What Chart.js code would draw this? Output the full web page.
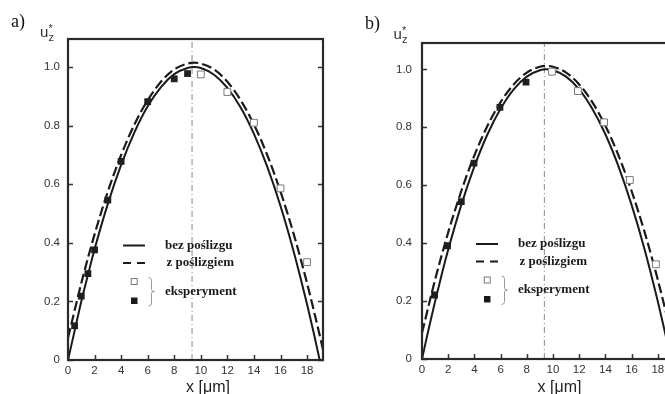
<!DOCTYPE html>
<html>
<head>
<meta charset="utf-8">
<script src="https://cdn.jsdelivr.net/npm/chart.js@4.4.0/dist/chart.umd.min.js"></script>
<style>
body{margin:0;background:#fff;width:665px;height:394px;overflow:hidden;position:relative}
#cA{position:absolute;left:0;top:0}
#wrapB{position:absolute;left:340px;top:0;width:325px;height:394px;overflow:hidden}
</style>
</head>
<body>
<canvas id="cA" width="340" height="394"></canvas>
<div id="wrapB"><canvas id="cB" width="360" height="394"></canvas></div>
<script>
// tick labels (shared)
const xTicks = [0, 2, 4, 6, 8, 10, 12, 14, 16, 18]
const yTicks = [0, 0.2, 0.4, 0.6, 0.8, 1.0]

// panel a) - model curves
const aSolidX = [0, 0.5, 1, 1.5, 2, 3, 4, 5, 6, 7, 8, 9, 9.5, 10, 11, 12, 13, 14, 15, 16, 17, 18, 18.5, 18.95]
const aSolidY = [0, 0.10, 0.20, 0.29, 0.378, 0.533, 0.666, 0.777, 0.866, 0.932, 0.976, 0.997, 1.0, 0.997, 0.974, 0.929, 0.862, 0.772, 0.66, 0.526, 0.369, 0.19, 0.093, 0]
const aSlipX = [0, 1, 2, 3, 4, 5, 6, 7, 8, 9, 9.5, 10, 11, 12, 13, 14, 15, 16, 17, 18, 19, 19.2]
const aSlipY = [0.075, 0.262, 0.429, 0.575, 0.70, 0.804, 0.887, 0.95, 0.992, 1.012, 1.015, 1.012, 0.992, 0.95, 0.887, 0.804, 0.70, 0.575, 0.429, 0.262, 0.075, 0.035]
// panel a) - experiment
const aOpenX = [10, 12, 14, 16, 18]
const aOpenY = [0.975, 0.915, 0.81, 0.586, 0.334]
const aFillX = [0.5, 1.0, 1.5, 2.0, 3.0, 4.0, 6.0, 8.0, 9.0]
const aFillY = [0.117, 0.218, 0.295, 0.376, 0.546, 0.678, 0.882, 0.96, 0.978]

// panel b) - model curves
const bSolidX = [0, 0.5, 1, 1.5, 2, 3, 4, 5, 6, 7, 8, 9, 9.5, 10, 11, 12, 13, 14, 15, 16, 17, 18, 18.5, 19]
const bSolidY = [0, 0.102, 0.199, 0.291, 0.377, 0.532, 0.665, 0.776, 0.864, 0.931, 0.975, 0.997, 1.0, 0.997, 0.975, 0.931, 0.864, 0.776, 0.665, 0.532, 0.377, 0.199, 0.102, 0]
const bSlipX = [0, 1, 2, 3, 4, 5, 6, 7, 8, 9, 9.5, 10, 11, 12, 13, 14, 15, 16, 17, 18, 19, 19.2]
const bSlipY = [0.09, 0.274, 0.437, 0.58, 0.703, 0.805, 0.887, 0.948, 0.989, 1.009, 1.012, 1.009, 0.989, 0.948, 0.887, 0.805, 0.703, 0.58, 0.437, 0.274, 0.09, 0.051]
// panel b) - experiment
const bOpenX = [9.92, 11.9, 13.9, 15.87, 17.86]
const bOpenY = [0.992, 0.925, 0.817, 0.618, 0.327]
const bFillX = [0.96, 1.95, 3.0, 3.97, 5.95, 7.94]
const bFillY = [0.221, 0.391, 0.543, 0.676, 0.869, 0.956]

// channel axis
const midX = 9.34

const legendNames = ['bez poślizgu', 'z poślizgiem', 'eksperyment']

function pts(xs, ys) {
    return xs.map((x, i) => ({x: x, y: ys[i]}))
}

function line(ctx, x1, y1, x2, y2) {
    ctx.beginPath()
    ctx.moveTo(x1, y1)
    ctx.lineTo(x2, y2)
    ctx.stroke()
}

const frame = {
    id: 'frame',
    afterDatasetsDraw(chart, args, o) {
        let ctx = chart.ctx
        let a = chart.chartArea
        let xs = chart.scales.x, ys = chart.scales.y
        ctx.save()
        ctx.strokeStyle = '#333'
        ctx.lineWidth = 1.5
        // inward ticks
        xs.ticks.forEach(t => {
            let px = Math.round(xs.getPixelForValue(t.value)) + 0.5
            line(ctx, px, a.bottom, px, a.bottom - 5)
        })
        ys.ticks.forEach(t => {
            let py = Math.round(ys.getPixelForValue(t.value)) + 0.5
            line(ctx, a.left, py, a.left + 5, py)
            line(ctx, a.right, py, a.right - 5, py)
        })
        // frame
        ctx.lineWidth = 2.2
        ctx.strokeStyle = '#2a2a2a'
        ctx.strokeRect(a.left, a.top, a.right - a.left, a.bottom - a.top)
        ctx.restore()
    },
    afterDraw(chart, args, o) {
        let ctx = chart.ctx
        ctx.save()
        // panel letter
        ctx.fillStyle = '#111'
        ctx.font = '18px "Liberation Serif"'
        ctx.textBaseline = 'alphabetic'
        ctx.fillText(o.letter, o.letterX, o.letterY)
        // u_z*
        ctx.fillStyle = '#333'
        ctx.font = '15px "Liberation Sans"'
        ctx.fillText('u', o.uX, o.uY)
        ctx.font = '11px "Liberation Sans"'
        ctx.fillText('z', o.uX + 8.5, o.uY + 4)
        ctx.fillText('*', o.uX + 8.5, o.uY - 4.5)
        // x title
        ctx.fillStyle = '#222'
        ctx.font = '16px "Liberation Sans"'
        ctx.textAlign = 'center'
        ctx.fillText('x [\u03bcm]', o.titleX, 392)
        ctx.textAlign = 'left'

        // legend
        let x = o.legX, y = o.legY
        ctx.strokeStyle = '#1a1a1a'
        ctx.lineWidth = 2
        line(ctx, x, y, x + 22, y)
        ctx.setLineDash([8, 6])
        line(ctx, x, y + 17.5, x + 22, y + 17.5)
        ctx.setLineDash([])
        ctx.fillStyle = '#1a1a1a'
        ctx.font = 'bold 13px "Liberation Serif"'
        ctx.textBaseline = 'middle'
        ctx.fillText(legendNames[0], x + 42, y)
        ctx.fillText(legendNames[1], x + 43.5, y + 17.5)
        ctx.fillText(legendNames[2], x + 42, y + 46)
        ctx.lineWidth = 1
        ctx.strokeStyle = '#777'
        ctx.fillStyle = '#fff'
        ctx.fillRect(x + 8.2, y + 33, 6, 6)
        ctx.strokeRect(x + 8.2, y + 33, 6, 6)
        ctx.fillStyle = '#1a1a1a'
        ctx.fillRect(x + 8, y + 52, 6.5, 6.5)
        // brace
        let bx = x + 28.5, t = y + 32, m = y + 46, b = y + 60.5
        ctx.strokeStyle = '#999'
        ctx.beginPath()
        ctx.moveTo(bx - 3, t)
        ctx.quadraticCurveTo(bx, t, bx, t + 3)
        ctx.lineTo(bx, m - 2)
        ctx.quadraticCurveTo(bx, m, bx + 3, m)
        ctx.quadraticCurveTo(bx, m, bx, m + 2)
        ctx.lineTo(bx, b - 3)
        ctx.quadraticCurveTo(bx, b, bx - 3, b)
        ctx.stroke()
        ctx.restore()
    }
}

function makePanel(id, d, o) {
    let ctx = document.getElementById(id).getContext('2d')
    return new Chart(ctx, {
        type: 'scatter',
        data: {
            datasets: [
                {
                    label: 'eksperyment (pełne)',
                    data: pts(d.fillX, d.fillY),
                    pointStyle: 'rect',
                    pointRadius: 4.8,
                    backgroundColor: '#1f1f1f',
                    borderColor: '#1f1f1f',
                    borderWidth: 0,
                    order: 1
                },
                {
                    label: 'eksperyment (puste)',
                    data: pts(d.openX, d.openY),
                    pointStyle: 'rect',
                    pointRadius: 4.8,
                    backgroundColor: '#fff',
                    borderColor: '#7a7a7a',
                    borderWidth: 1,
                    order: 2
                },
                {
                    label: legendNames[0],
                    data: pts(d.solidX, d.solidY),
                    showLine: true,
                    cubicInterpolationMode: 'monotone',
                    borderColor: '#1a1a1a',
                    borderWidth: 2,
                    pointRadius: 0,
                    order: 3
                },
                {
                    label: legendNames[1],
                    data: pts(d.slipX, d.slipY),
                    showLine: true,
                    cubicInterpolationMode: 'monotone',
                    borderColor: '#1a1a1a',
                    borderWidth: 2.2,
                    borderDash: [10, 4],
                    pointRadius: 0,
                    order: 4
                },
                {
                    label: 'oś',
                    data: [{x: midX, y: 0}, {x: midX, y: o.ymax}],
                    showLine: true,
                    borderColor: '#8a8a8a',
                    borderWidth: 1,
                    borderDash: [6, 3, 1, 3],
                    pointRadius: 0,
                    order: 5
                }
            ]
        },
        options: {
            responsive: false,
            animation: false,
            devicePixelRatio: 1,
            layout: {padding: o.pad},
            plugins: {
                legend: {display: false},
                tooltip: {enabled: false},
                frame: o
            },
            scales: {
                x: {
                    type: 'linear',
                    min: 0,
                    max: 19.2,
                    grid: {display: false, drawTicks: false},
                    border: {display: false},
                    afterBuildTicks: s => { s.ticks = xTicks.map(v => ({value: v})) },
                    afterFit: s => { s.height = o.xh },
                    ticks: {
                        color: '#333',
                        font: {family: 'Liberation Sans', size: 11.5},
                        padding: 4,
                        maxRotation: 0,
                        callback: v => String(v)
                    }
                },
                y: {
                    type: 'linear',
                    min: 0,
                    max: o.ymax,
                    grid: {display: false, drawTicks: false},
                    border: {display: false},
                    afterBuildTicks: s => { s.ticks = yTicks.map(v => ({value: v})) },
                    afterFit: s => { s.width = 60 },
                    ticks: {
                        color: '#333',
                        font: {family: 'Liberation Sans', size: 11.5},
                        padding: o.ypad,
                        callback: v => v === 0 ? '0' : v.toFixed(1)
                    }
                }
            }
        },
        plugins: [frame]
    })
}

makePanel('cA',
    {solidX: aSolidX, solidY: aSolidY, slipX: aSlipX, slipY: aSlipY, openX: aOpenX, openY: aOpenY, fillX: aFillX, fillY: aFillY},
    {pad: {left: 8, top: 39, right: 17, bottom: 0}, xh: 34, ymax: 1.096, ypad: 8,
     letter: 'a)', letterX: 11, letterY: 27, uX: 40, uY: 36.7, titleX: 208, legX: 123, legY: 245.5})

makePanel('cB',
    {solidX: bSolidX, solidY: bSolidY, slipX: bSlipX, slipY: bSlipY, openX: bOpenX, openY: bOpenY, fillX: bFillX, fillY: bFillY},
    {pad: {left: 22, top: 43, right: 26.5, bottom: 0}, xh: 35, ymax: 1.091, ypad: 10,
     letter: 'b)', letterX: 25, letterY: 29, uX: 53.5, uY: 38.5, titleX: 219.5, legX: 136, legY: 244})
</script>
</body>
</html>
